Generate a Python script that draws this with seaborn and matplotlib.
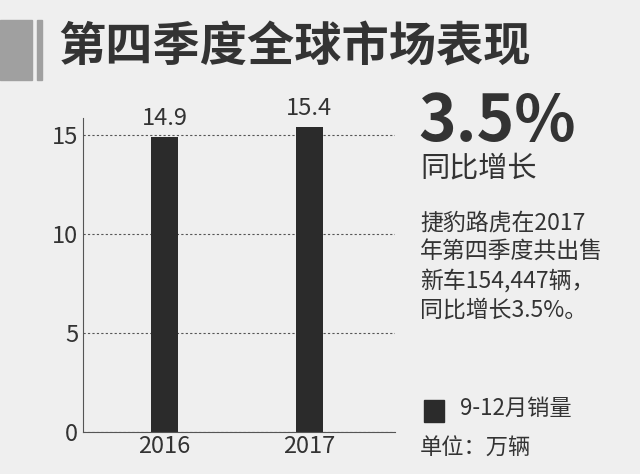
import matplotlib
matplotlib.use("Agg")
import matplotlib.pyplot as plt
import seaborn as sns
import pandas as pd
from matplotlib.patches import Rectangle

years = ["2016", "2017"]
sales = [14.9, 15.4]
yticks = [0, 5, 10, 15]

plt.rcParams["font.family"] = "Noto Sans CJK SC"
bg = "#efefef"
fig = plt.figure(figsize=(6.4, 4.74), dpi=100, facecolor=bg)
ax = fig.add_axes([0.130, 0.089, 0.487, 0.662], facecolor=bg)
df = pd.DataFrame({"year": years, "sales": sales})
sns.barplot(data=df, x="year", y="sales", color="#2b2b2b", saturation=1, width=0.19, ax=ax)
ax.set_xlim(-0.56, 1.59)
ax.set_ylim(0, 15.86)
ax.set_yticks(yticks)
ax.set_xlabel(""); ax.set_ylabel("")
for s in ["top", "right"]:
    ax.spines[s].set_visible(False)
ax.spines["left"].set_color("#555555")
ax.spines["bottom"].set_color("#555555")
ax.yaxis.grid(True, linestyle=(0, (2, 2)), color="#555555", linewidth=0.8)
ax.set_axisbelow(True)
ax.tick_params(axis="both", length=0, labelsize=17, colors="#333333")
ax.tick_params(axis="x", pad=2)
for i, v in enumerate(sales):
    ax.text(i, v + 0.35, f"{v}", ha="center", va="bottom", fontsize=17, color="#333333")

fig.patches.append(Rectangle((0, 394), 32, 60, transform=None, color="#a0a0a0"))
fig.patches.append(Rectangle((37, 394), 5, 60, transform=None, color="#a0a0a0"))
fig.text(58/640, 1-48/474, "第四季度全球市场表现", fontsize=34, fontweight="bold", va="center", color="#333333")
fig.text(418/640, 1-122/474, "3.5%", fontsize=46, fontweight="bold", va="center", color="#333333")
fig.text(420/640, 1-168/474, "同比增长", fontsize=21, va="center", color="#333333")
fig.text(420/640, 1-212/474, "捷豹路虎在2017\n年第四季度共出售\n新车154,447辆，\n同比增长3.5%。",
         fontsize=16.5, va="top", color="#333333", linespacing=1.3)
fig.patches.append(Rectangle((424, 474-422), 20, 22, transform=None, color="#2b2b2b"))
fig.text(460/640, 1-408/474, "9-12月销量", fontsize=16, va="center", color="#333333")
fig.text(420/640, 1-448/474, "单位：万辆", fontsize=16, va="center", color="#333333")
fig.savefig("out.png", dpi=100, facecolor=bg)
